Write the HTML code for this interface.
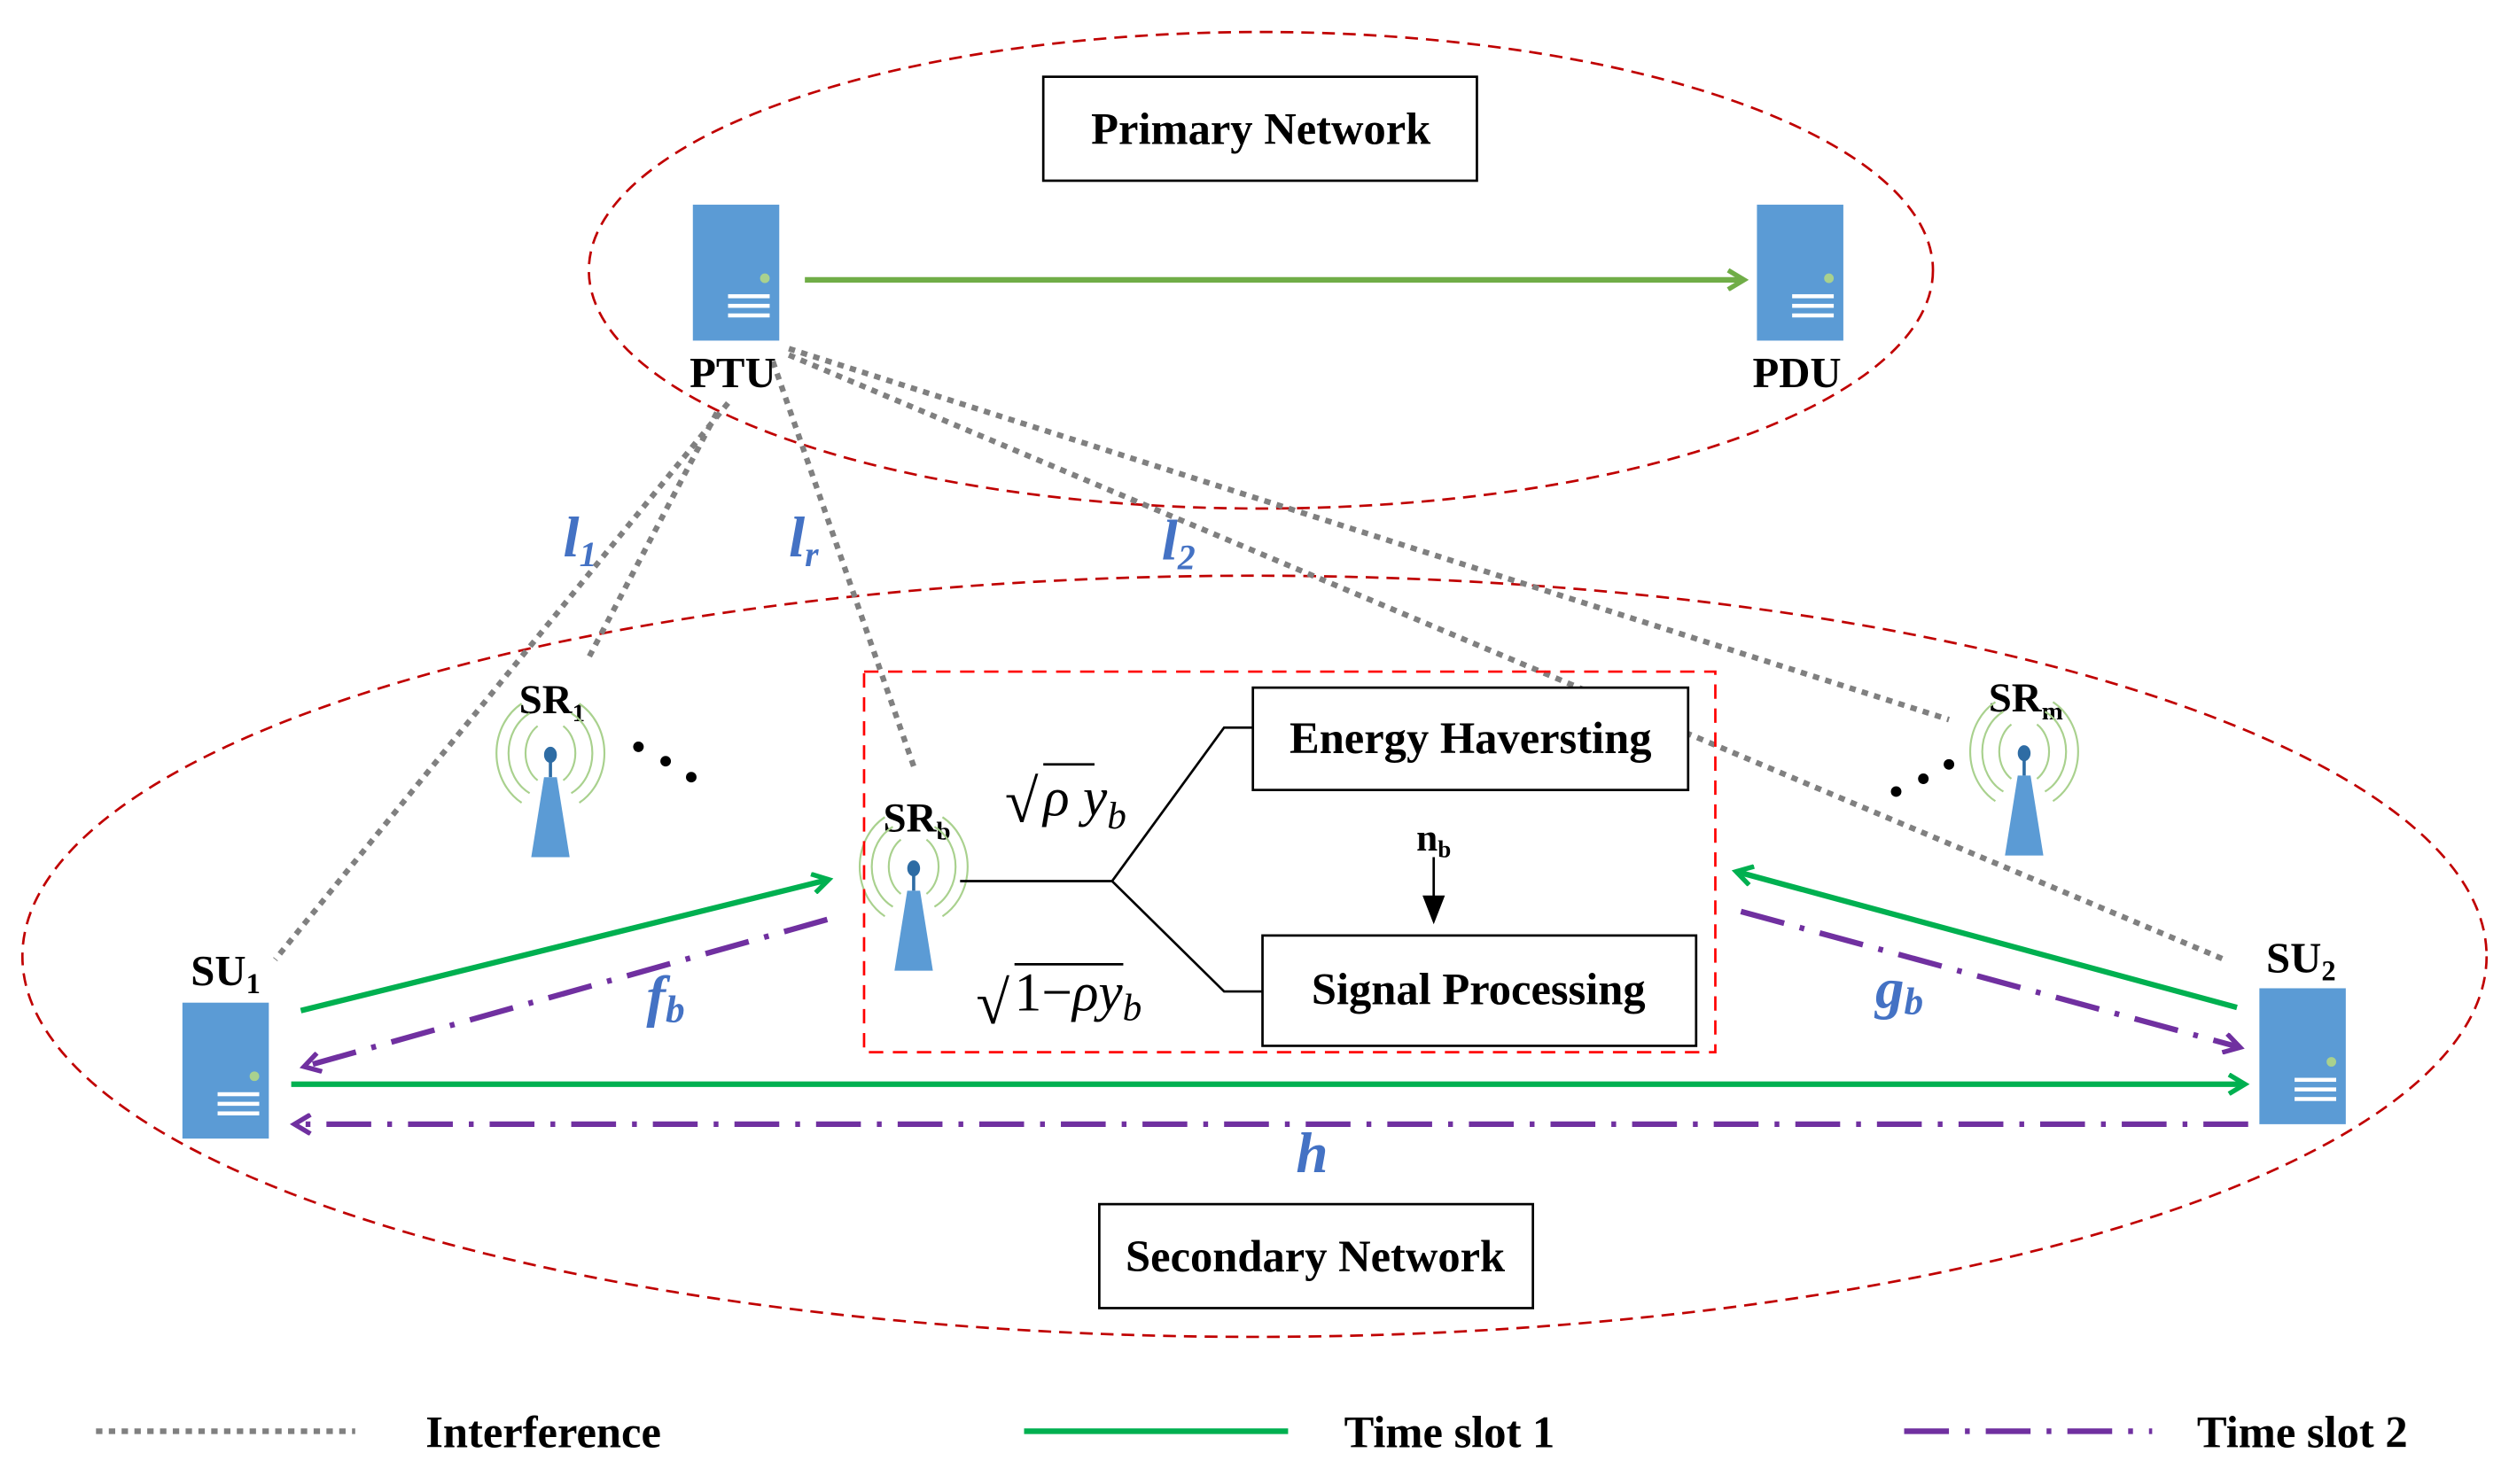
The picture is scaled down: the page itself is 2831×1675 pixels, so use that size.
<!DOCTYPE html>
<html><head><meta charset="utf-8"><style>html,body{margin:0;padding:0;background:#fff}svg{display:block}</style></head>
<body>
<svg width="2831" height="1675" viewBox="0 0 1568 928" preserveAspectRatio="none" xmlns="http://www.w3.org/2000/svg" font-family="Liberation Serif, serif">
<defs>
<marker id="ag" markerWidth="14" markerHeight="14" refX="11" refY="7" orient="auto" markerUnits="userSpaceOnUse"><path d="M1,1 L11,7 L1,13" fill="none" stroke="#00b050" stroke-width="3"/></marker>
<marker id="ag2" markerWidth="14" markerHeight="14" refX="11" refY="7" orient="auto" markerUnits="userSpaceOnUse"><path d="M1,1 L11,7 L1,13" fill="none" stroke="#70ad47" stroke-width="3"/></marker>
<marker id="ap" markerWidth="14" markerHeight="14" refX="11" refY="7" orient="auto" markerUnits="userSpaceOnUse"><path d="M1,1 L11,7 L1,13" fill="none" stroke="#7030a0" stroke-width="3"/></marker>
<g id="srv"><rect x="0" y="0" width="54" height="85" fill="#5b9bd5"/><circle cx="45" cy="46" r="3" fill="#a9d18e"/><rect x="22" y="56" width="26" height="2.5" fill="#fff"/><rect x="22" y="62" width="26" height="2.5" fill="#fff"/><rect x="22" y="68" width="26" height="2.5" fill="#fff"/></g>
<g id="ant"><path d="M-8,-22 A16,20 0 0 0 -8,12 M8,-22 A16,20 0 0 1 8,12 M-13,-30 A24,28 0 0 0 -13,20 M13,-30 A24,28 0 0 1 13,20 M-18,-36 A32,36 0 0 0 -18,26 M18,-36 A32,36 0 0 1 18,26" fill="none" stroke="#a9d18e" stroke-width="1.2"/><rect x="-1" y="-4" width="2" height="14" fill="#2e6ca4"/><ellipse cx="0" cy="-4" rx="4" ry="5" fill="#2e6ca4"/><polygon points="-4,10 4,10 12,60 -12,60" fill="#5b9bd5"/></g>
</defs>
<ellipse cx="788" cy="169" rx="420" ry="149" fill="none" stroke="#c00000" stroke-width="1.5" stroke-dasharray="8,5"/>
<ellipse cx="784" cy="598" rx="770" ry="238" fill="none" stroke="#c00000" stroke-width="1.5" stroke-dasharray="8,5"/>
<g stroke="#808080" stroke-width="3.5" stroke-dasharray="4,4" fill="none">
<line x1="455" y1="252" x2="172" y2="600"/>
<line x1="448" y1="258" x2="367" y2="413"/>
<line x1="483" y1="226" x2="572" y2="482"/>
<line x1="493" y1="218" x2="1218" y2="450"/>
<line x1="493" y1="222" x2="1390" y2="600"/>
<line x1="60" y1="895" x2="222" y2="895"/>
</g>
<rect x="652" y="48" width="271" height="65" fill="#fff" stroke="#000" stroke-width="1.5"/>
<text x="788" y="90" font-size="28" font-weight="bold" text-anchor="middle">Primary Network</text>
<rect x="687" y="753" width="271" height="65" fill="#fff" stroke="#000" stroke-width="1.5"/>
<text x="822" y="795" font-size="28" font-weight="bold" text-anchor="middle">Secondary Network</text>
<use href="#srv" x="433" y="128"/><use href="#srv" x="1098" y="128"/>
<use href="#srv" x="114" y="627"/><use href="#srv" x="1412" y="618"/>
<g font-size="27" font-weight="bold" text-anchor="middle">
<text x="458" y="242">PTU</text><text x="1123" y="242">PDU</text>
<text x="141" y="616">SU<tspan font-size="18" dy="5">1</tspan></text>
<text x="1438" y="608">SU<tspan font-size="18" dy="5">2</tspan></text>
<text x="345" y="446" font-size="26">SR<tspan font-size="16" dy="5">1</tspan></text>
<text x="573" y="520" font-size="26">SR<tspan font-size="16" dy="5">b</tspan></text>
<text x="1266" y="445" font-size="26">SR<tspan font-size="16" dy="5">m</tspan></text>
</g>
<line x1="503" y1="175" x2="1090" y2="175" stroke="#70ad47" stroke-width="3.5" marker-end="url(#ag2)"/>
<use href="#ant" x="344" y="476"/><use href="#ant" x="571" y="547"/><use href="#ant" x="1265" y="475"/>
<g fill="#000"><circle cx="399" cy="467" r="3.3"/><circle cx="416" cy="476" r="3.3"/><circle cx="432" cy="486" r="3.3"/>
<circle cx="1185" cy="495" r="3.3"/><circle cx="1202" cy="487" r="3.3"/><circle cx="1218" cy="478" r="3.3"/></g>
<rect x="540" y="420" width="532" height="238" fill="none" stroke="#ff0000" stroke-width="1.5" stroke-dasharray="9,6"/>
<rect x="783" y="430" width="272" height="64" fill="#fff" stroke="#000" stroke-width="1.5"/>
<text x="919" y="471" font-size="28" font-weight="bold" text-anchor="middle">Energy Haversting</text>
<rect x="789" y="585" width="271" height="69" fill="#fff" stroke="#000" stroke-width="1.5"/>
<text x="924" y="628" font-size="28" font-weight="bold" text-anchor="middle">Signal Processing</text>
<polyline points="600,551 695,551 765,455 783,455" fill="none" stroke="#000" stroke-width="1.5"/>
<polyline points="695,551 765,620 789,620" fill="none" stroke="#000" stroke-width="1.5"/>
<text x="896" y="532" font-size="24" font-weight="bold" text-anchor="middle">n<tspan font-size="15" dy="4">b</tspan></text>
<line x1="896" y1="536" x2="896" y2="562" stroke="#000" stroke-width="1.5"/>
<polygon points="889,560 903,560 896,578" fill="#000"/>
<g font-size="34" font-style="italic">
<text x="628" y="514" font-style="normal" font-size="38">√</text>
<line x1="652" y1="478" x2="684" y2="478" stroke="#000" stroke-width="1.5"/>
<text x="652" y="510">ρ y<tspan font-size="24" dy="8">b</tspan></text>
<text x="610" y="640" font-style="normal" font-size="38">√</text>
<line x1="634" y1="603" x2="702" y2="603" stroke="#000" stroke-width="1.5"/>
<text x="634" y="632"><tspan font-style="normal">1−</tspan>ρy<tspan font-size="24" dy="6">b</tspan></text>
</g>
<g stroke="#00b050" stroke-width="3.5" fill="none">
<line x1="188" y1="632" x2="518" y2="550" marker-end="url(#ag)"/>
<line x1="1398" y1="630" x2="1085" y2="545" marker-end="url(#ag)"/>
<line x1="182" y1="678" x2="1403" y2="678" marker-end="url(#ag)"/>
<line x1="640" y1="895" x2="805" y2="895"/>
</g>
<g stroke="#7030a0" stroke-width="3.5" fill="none" stroke-dasharray="28,10,3,10">
<line x1="517" y1="575" x2="190" y2="667" marker-end="url(#ap)"/>
<line x1="1088" y1="570" x2="1400" y2="655" marker-end="url(#ap)"/>
<line x1="1405" y1="703" x2="184" y2="703" marker-end="url(#ap)"/>
<line x1="1190" y1="895" x2="1345" y2="895"/>
</g>
<g fill="#4472c4" font-size="36" font-style="italic" font-weight="bold">
<text x="352" y="348">l<tspan font-size="22" dy="6">1</tspan></text>
<text x="493" y="348">l<tspan font-size="22" dy="6">r</tspan></text>
<text x="726" y="350">l<tspan font-size="22" dy="6">2</tspan></text>
<text x="404" y="635">f<tspan font-size="24" dy="4">b</tspan></text>
<text x="1172" y="630">g<tspan font-size="24" dy="4">b</tspan></text>
<text x="810" y="733">h</text>
</g>
<g font-size="28" font-weight="bold">
<text x="266" y="905">Interference</text>
<text x="840" y="905">Time slot 1</text>
<text x="1373" y="905">Time slot 2</text>
</g>
</svg>
</body></html>
